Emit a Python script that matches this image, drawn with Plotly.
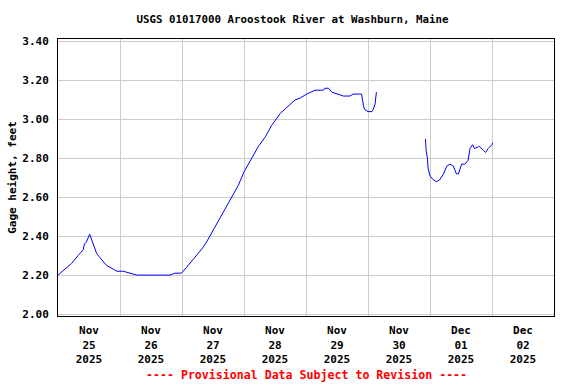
import plotly.graph_objects as go

# ---- data ----
times = [
    "2025-11-25 00:00", "2025-11-25 02:45", "2025-11-25 05:15", "2025-11-25 07:45",
    "2025-11-25 09:45", "2025-11-25 10:15", "2025-11-25 11:00", "2025-11-25 12:15",
    "2025-11-25 13:00", "2025-11-25 13:45", "2025-11-25 15:00", "2025-11-25 16:15",
    "2025-11-25 18:45", "2025-11-25 21:30", "2025-11-25 22:45",
    "2025-11-26 01:15", "2025-11-26 03:45", "2025-11-26 06:30", "2025-11-26 19:15",
    "2025-11-26 21:15", "2025-11-26 23:45",
    "2025-11-27 00:30", "2025-11-27 01:45", "2025-11-27 04:15", "2025-11-27 07:00",
    "2025-11-27 08:00", "2025-11-27 09:30", "2025-11-27 10:45", "2025-11-27 13:30",
    "2025-11-27 16:00", "2025-11-27 19:15", "2025-11-27 21:45",
    "2025-11-28 00:00", "2025-11-28 03:00", "2025-11-28 05:30", "2025-11-28 08:15",
    "2025-11-28 10:45", "2025-11-28 14:00", "2025-11-28 17:15", "2025-11-28 19:45",
    "2025-11-28 21:45",
    "2025-11-29 00:15", "2025-11-29 03:30", "2025-11-29 06:45", "2025-11-29 07:15",
    "2025-11-29 08:45", "2025-11-29 10:00", "2025-11-29 12:00", "2025-11-29 14:30",
    "2025-11-29 17:00", "2025-11-29 18:15", "2025-11-29 20:15", "2025-11-29 21:30",
    "2025-11-29 22:15", "2025-11-29 22:45",
    "2025-11-30 00:00", "2025-11-30 01:30", "2025-11-30 02:00", "2025-11-30 02:45",
    "2025-11-30 03:15",
    "2025-11-30 12:00",  # gap marker
    "2025-11-30 22:15", "2025-11-30 22:30", "2025-11-30 23:00", "2025-11-30 23:15",
    "2025-12-01 00:00", "2025-12-01 01:15", "2025-12-01 02:30", "2025-12-01 03:45",
    "2025-12-01 05:15", "2025-12-01 06:30", "2025-12-01 07:45", "2025-12-01 09:00",
    "2025-12-01 10:15", "2025-12-01 11:00", "2025-12-01 12:15", "2025-12-01 13:30",
    "2025-12-01 14:45", "2025-12-01 15:30", "2025-12-01 16:30", "2025-12-01 17:15",
    "2025-12-01 18:45", "2025-12-01 19:15", "2025-12-01 20:45", "2025-12-01 21:30",
    "2025-12-01 22:30", "2025-12-02 00:00", "2025-12-02 00:15",
]
gage_ft = [
    2.20, 2.23, 2.26, 2.30,
    2.33, 2.36, 2.37, 2.41,
    2.38, 2.36, 2.31, 2.29,
    2.25, 2.23, 2.22,
    2.22, 2.21, 2.20, 2.20,
    2.21, 2.21,
    2.22, 2.24, 2.28, 2.32,
    2.34, 2.37, 2.40, 2.46,
    2.52, 2.60, 2.66,
    2.73, 2.80, 2.86, 2.91,
    2.97, 3.03, 3.07, 3.10,
    3.11,
    3.13, 3.15, 3.15, 3.16,
    3.16, 3.14, 3.13, 3.12,
    3.12, 3.13, 3.13, 3.13,
    3.07, 3.05,
    3.04, 3.04, 3.05, 3.08,
    3.14,
    None,
    2.90, 2.84, 2.80, 2.75,
    2.71, 2.69, 2.68, 2.69,
    2.72, 2.76, 2.77, 2.76,
    2.72, 2.72, 2.77, 2.77,
    2.79, 2.85, 2.87, 2.85,
    2.86, 2.86, 2.84, 2.83,
    2.85, 2.87, 2.88,
]

day_labels_pos = ["2025-11-25 12:00", "2025-11-26 12:00", "2025-11-27 12:00",
                  "2025-11-28 12:00", "2025-11-29 12:00", "2025-11-30 12:00",
                  "2025-12-01 12:00", "2025-12-02 12:00"]
day_labels = ["Nov<br>25<br>2025", "Nov<br>26<br>2025", "Nov<br>27<br>2025",
              "Nov<br>28<br>2025", "Nov<br>29<br>2025", "Nov<br>30<br>2025",
              "Dec<br>01<br>2025", "Dec<br>02<br>2025"]
day_grid = ["2025-11-26", "2025-11-27", "2025-11-28", "2025-11-29",
            "2025-11-30", "2025-12-01", "2025-12-02"]
y_ticks = [2.0, 2.2, 2.4, 2.6, 2.8, 3.0, 3.2, 3.4]

FONT = "DejaVu Sans Mono"

fig = go.Figure()
fig.add_trace(go.Scatter(
    x=times, y=gage_ft, mode="lines",
    line=dict(color="#0000ff", width=1),
    connectgaps=False, showlegend=False,
))

fig.update_layout(
    width=576, height=384,
    margin=dict(l=58, r=22, t=39, b=68, autoexpand=False),
    paper_bgcolor="white", plot_bgcolor="white",
    font=dict(family=FONT, size=11, color="black", weight="bold"),
    title=dict(text="USGS 01017000 Aroostook River at Washburn, Maine",
               xref="container", x=0.508, xanchor="center",
               yref="container", y=0.95, yanchor="middle",
               font=dict(family=FONT, size=10.8, color="black", weight="bold")),
    xaxis=dict(
        type="date", automargin=False,
        range=["2025-11-25 00:00", "2025-12-03 00:00"],
        tickmode="array", tickvals=day_labels_pos, ticktext=day_labels,
        showgrid=False, ticks="", ticklabelstandoff=4,
        showline=True, linecolor="black", linewidth=1, mirror=True,
        minor=dict(tickmode="array", tickvals=day_grid, showgrid=True,
                   gridcolor="#cccccc", gridwidth=1, ticks=""),
        zeroline=False,
    ),
    yaxis=dict(
        automargin=False,
        range=[1.99, 3.413],
        tickmode="array", tickvals=y_ticks, tickformat=".2f",
        showgrid=True, gridcolor="#cccccc", gridwidth=1,
        ticks="", ticklabelstandoff=6,
        showline=True, linecolor="black", linewidth=1, mirror=True,
        zeroline=False,
        title=dict(text="Gage height, feet", standoff=3,
                   font=dict(family=FONT, size=11, color="black", weight="bold")),
    ),
    annotations=[dict(
        text="---- Provisional Data Subject to Revision ----",
        xref="paper", x=0.5, xanchor="center",
        yref="paper", y=-0.213, yanchor="middle",
        showarrow=False,
        font=dict(family=FONT, size=11.6, color="#ff0000", weight="bold"),
    )],
)

fig.write_html("out.html", config={"displayModeBar": False},
               post_script="document.body.style.margin='0';")
